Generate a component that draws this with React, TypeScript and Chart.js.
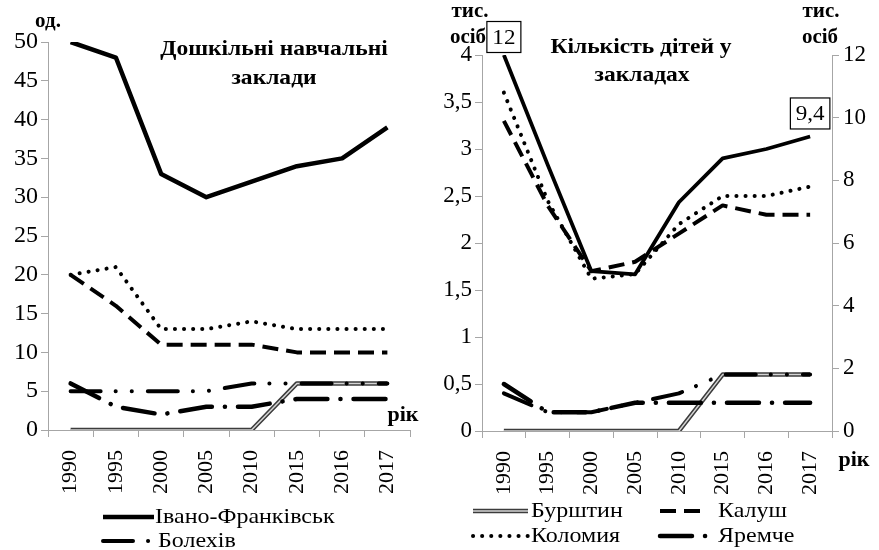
import React, { useEffect, useRef } from 'react';
import { Chart, registerables } from 'chart.js';
Chart.register(...registerables);

// ---------- data ----------
const years = ['1990', '1995', '2000', '2005', '2010', '2015', '2016', '2017'];

// Дошкільні навчальні заклади, од.
const ivanoInst = [50, 48, 33, 30, 32, 34, 35, 39];
const bolekhivInst = [5, 5, 5, 5, 6, 6, 6, 6];
const burshtynInst = [0, 0, 0, 0, 0, 6, 6, 6];
const kalushInst = [20, 16, 11, 11, 11, 10, 10, 10];
const kolomyiaInst = [20, 21, 13, 13, 14, 13, 13, 13];
const yaremcheInst = [6, 3, 2, 3, 3, 4, 4, 4];

// Кількість дітей у закладах, тис. осіб
const ivanoKids = [12, 8.5, 5.1, 5.0, 7.3, 8.7, 9.0, 9.4]; // right axis
const bolekhivKids = [0.4, 0.2, 0.2, 0.3, 0.4, 0.6, 0.6, 0.6];
const burshtynKids = [0, 0, 0, 0, 0, 0.6, 0.6, 0.6];
const kalushKids = [3.3, 2.4, 1.7, 1.8, 2.1, 2.4, 2.3, 2.3];
const kolomyiaKids = [3.6, 2.45, 1.62, 1.67, 2.2, 2.5, 2.5, 2.6];
const yaremcheKids = [0.5, 0.2, 0.2, 0.3, 0.3, 0.3, 0.3, 0.3];

const names = ['Івано-Франківськ', 'Болехів', 'Бурштин', 'Калуш', 'Коломия', 'Яремче'];

const FONT = "'Liberation Serif', serif";
const AXIS = '#a6a6a6';

// ---------- styles ----------
const styles: Record<string, any> = {
  ivano: { borderColor: '#000', borderWidth: 4.5, borderDash: [], borderCapStyle: 'butt' },
  ivanoR: { borderColor: '#000', borderWidth: 3.8, borderDash: [], borderCapStyle: 'butt' },
  bolekhiv: { borderColor: '#000', borderWidth: 4, borderDash: [30, 15, 0.1, 16, 0.1, 16], borderCapStyle: 'round' },
  burOuter: { borderColor: '#3c3c3c', borderWidth: 4.5, borderDash: [], borderCapStyle: 'butt' },
  burInner: { borderColor: '#d4d4d4', borderWidth: 1.5, borderDash: [], borderCapStyle: 'butt' },
  kalush: { borderColor: '#000', borderWidth: 4, borderDash: [16, 8], borderCapStyle: 'butt' },
  kolomyia: { borderColor: '#000', borderWidth: 4, borderDash: [0.1, 9], borderCapStyle: 'round' },
  yaremche: { borderColor: '#000', borderWidth: 4.5, borderDash: [32, 13, 0.1, 13], borderCapStyle: 'round' },
};

function ds(label: string, data: number[], st: any, order: number, yAxisID = 'y') {
  return {
    label,
    data,
    yAxisID,
    order,
    fill: false,
    tension: 0,
    pointRadius: 0,
    borderJoinStyle: 'round',
    ...st,
  };
}

function buildDatasets(d: number[][], ivanoAxis: string, ivanoStyle: any) {
  return [
    ds(names[0], d[0], ivanoStyle, 0, ivanoAxis),
    ds(names[1], d[1], styles.bolekhiv, 1),
    ds(names[2], d[2], styles.burInner, 2),
    ds(names[2] + '_outer', d[2], styles.burOuter, 3),
    ds(names[3], d[3], styles.kalush, 1),
    ds(names[4], d[4], styles.kolomyia, 1),
    ds(names[5], d[5], styles.yaremche, 1),
  ];
}

type Txt = { text: string; x: number; y: number; bold?: boolean; size?: number; sx?: number };
type LegItem = { styleKeys: string[]; x1: number; x2: number; y: number; tx: number; label: string };

function drawText(ctx: CanvasRenderingContext2D, text: string, x: number, y: number, font: string, align: CanvasTextAlign, sx = 1) {
  ctx.save();
  ctx.font = font;
  ctx.textAlign = align;
  ctx.textBaseline = 'middle';
  ctx.fillStyle = '#000';
  ctx.translate(x, y);
  ctx.scale(sx, 1);
  ctx.fillText(text, 0, 0);
  ctx.restore();
}

function overlayPlugin(texts: Txt[], legend: LegItem[], boxes?: { ds: number; idx: number; text: string; dy: number }[]) {
  return {
    id: 'overlay',
    afterDraw(chart: any) {
      const ctx: CanvasRenderingContext2D = chart.ctx;
      ctx.save();
      for (const t of texts) {
        drawText(ctx, t.text, t.x, t.y, `${t.bold ? 'bold ' : ''}${t.size || 22}px ${FONT}`, 'center', t.sx || 1);
      }
      for (const it of legend) {
        for (const k of it.styleKeys) {
          const st = styles[k];
          ctx.beginPath();
          ctx.strokeStyle = st.borderColor;
          ctx.lineWidth = st.borderWidth;
          ctx.setLineDash(st.borderDash);
          ctx.lineCap = st.borderCapStyle;
          ctx.moveTo(it.x1, it.y);
          ctx.lineTo(it.x2, it.y);
          ctx.stroke();
        }
        ctx.setLineDash([]);
        drawText(ctx, it.label, it.tx, it.y, `22px ${FONT}`, 'left', 1.09);
      }
      if (boxes) {
        for (const b of boxes) {
          const pt = chart.getDatasetMeta(b.ds).data[b.idx];
          ctx.font = `22px ${FONT}`;
          const w = ctx.measureText(b.text).width + 12;
          const h = 31;
          const cx = pt.x;
          const cy = pt.y + b.dy;
          ctx.fillStyle = '#fff';
          ctx.fillRect(cx - w / 2, cy - h / 2, w, h);
          ctx.strokeStyle = '#000';
          ctx.lineWidth = 1.2;
          ctx.setLineDash([]);
          ctx.strokeRect(cx - w / 2, cy - h / 2, w, h);
          drawText(ctx, b.text, cx, cy + 1, `22px ${FONT}`, 'center', 1.05);
        }
      }
      ctx.restore();
    },
  };
}

function axisCommon() {
  return {
    grid: { display: true, drawOnChartArea: false, drawTicks: true, tickLength: 7, color: AXIS },
    border: { display: true, color: AXIS, width: 1 },
  };
}

const xAxis = (h: number) => ({
  type: 'category',
  offset: true,
  ...axisCommon(),
  grid: { display: true, drawOnChartArea: false, drawTicks: true, tickLength: 7, color: AXIS, offset: true },
  ticks: { font: { family: FONT, size: 22 }, color: '#000', minRotation: 90, maxRotation: 90, autoSkip: false, padding: 13 },
  afterFit: (s: any) => { s.height = h; },
});

const fmt = (v: any) => String(v).replace('.', ',');

export default function App() {
  const leftRef = useRef<HTMLCanvasElement>(null);
  const rightRef = useRef<HTMLCanvasElement>(null);

  useEffect(() => {
    const left = new Chart(leftRef.current!, {
      type: 'line',
      data: {
        labels: years,
        datasets: buildDatasets([ivanoInst, bolekhivInst, burshtynInst, kalushInst, kolomyiaInst, yaremcheInst], 'y', styles.ivano) as any,
      },
      options: {
        responsive: false,
        animation: false,
        devicePixelRatio: 1,
        events: [],
        layout: { padding: { left: 0, right: 30, top: 42, bottom: 0 } },
        plugins: { legend: { display: false }, tooltip: { enabled: false } },
        scales: {
          x: xAxis(120) as any,
          y: {
            min: 0,
            max: 50,
            ...axisCommon(),
            ticks: { stepSize: 5, font: { family: FONT, size: 24 }, color: '#000', padding: 3 },
            afterFit: (s: any) => { s.width = 48; },
          } as any,
        },
      },
      plugins: [
        overlayPlugin(
          [
            { text: 'од.', x: 48, y: 22, bold: true, size: 21 },
            { text: 'Дошкільні навчальні', x: 274, y: 50, bold: true, size: 21, sx: 1.12 },
            { text: 'заклади', x: 274, y: 79, bold: true, size: 21, sx: 1.12 },
            { text: 'рік', x: 403, y: 415, bold: true, size: 22 },
          ],
          [
            { styleKeys: ['ivano'], x1: 103, x2: 154, y: 517, tx: 155, label: names[0] },
            { styleKeys: ['bolekhiv'], x1: 103, x2: 154, y: 541, tx: 158, label: names[1] },
          ],
        ) as any,
      ],
    });

    const right = new Chart(rightRef.current!, {
      type: 'line',
      data: {
        labels: years,
        datasets: buildDatasets([ivanoKids, bolekhivKids, burshtynKids, kalushKids, kolomyiaKids, yaremcheKids], 'y1', styles.ivanoR) as any,
      },
      options: {
        responsive: false,
        animation: false,
        devicePixelRatio: 1,
        events: [],
        layout: { padding: { left: 0, right: 0, top: 55, bottom: 0 } },
        plugins: { legend: { display: false }, tooltip: { enabled: false } },
        scales: {
          x: xAxis(119) as any,
          y: {
            position: 'left',
            min: 0,
            max: 4,
            ...axisCommon(),
            ticks: { stepSize: 0.5, font: { family: FONT, size: 23 }, color: '#000', padding: 3, callback: (v: any) => fmt(v) },
            afterFit: (s: any) => { s.width = 42; },
          } as any,
          y1: {
            position: 'right',
            min: 0,
            max: 12,
            ...axisCommon(),
            ticks: { stepSize: 2, font: { family: FONT, size: 23 }, color: '#000', padding: 4 },
            afterFit: (s: any) => { s.width = 47; },
          } as any,
        },
      },
      plugins: [
        overlayPlugin(
          [
            { text: 'тис.', x: 30, y: 12, bold: true, size: 21 },
            { text: 'осіб', x: 28, y: 38, bold: true, size: 21 },
            { text: 'тис.', x: 381, y: 12, bold: true, size: 21 },
            { text: 'осіб', x: 380, y: 38, bold: true, size: 21 },
            { text: 'Кількість дітей у', x: 201, y: 48, bold: true, size: 21, sx: 1.12 },
            { text: 'закладах', x: 202, y: 76, bold: true, size: 21, sx: 1.12 },
            { text: 'рік', x: 414, y: 460, bold: true, size: 22 },
          ],
          [
            { styleKeys: ['burOuter', 'burInner'], x1: 33, x2: 88, y: 511, tx: 91, label: names[2] },
            { styleKeys: ['kalush'], x1: 220, x2: 266, y: 511, tx: 278, label: names[3] },
            { styleKeys: ['kolomyia'], x1: 33, x2: 88, y: 536, tx: 91, label: names[4] },
            { styleKeys: ['yaremche'], x1: 220, x2: 268, y: 536, tx: 278, label: names[5] },
          ],
          [
            { ds: 0, idx: 0, text: '12', dy: -18 },
            { ds: 0, idx: 7, text: '9,4', dy: -23 },
          ],
        ) as any,
      ],
    });

    return () => {
      left.destroy();
      right.destroy();
    };
  }, []);

  return (
    <div style={{ position: 'fixed', left: 0, top: 0, width: 879, height: 550, background: '#fff', overflow: 'hidden' }}>
      <canvas ref={leftRef} width={440} height={550} style={{ position: 'absolute', left: 0, top: 0, width: 440, height: 550 }} />
      <canvas ref={rightRef} width={439} height={550} style={{ position: 'absolute', left: 440, top: 0, width: 439, height: 550 }} />
    </div>
  );
}
